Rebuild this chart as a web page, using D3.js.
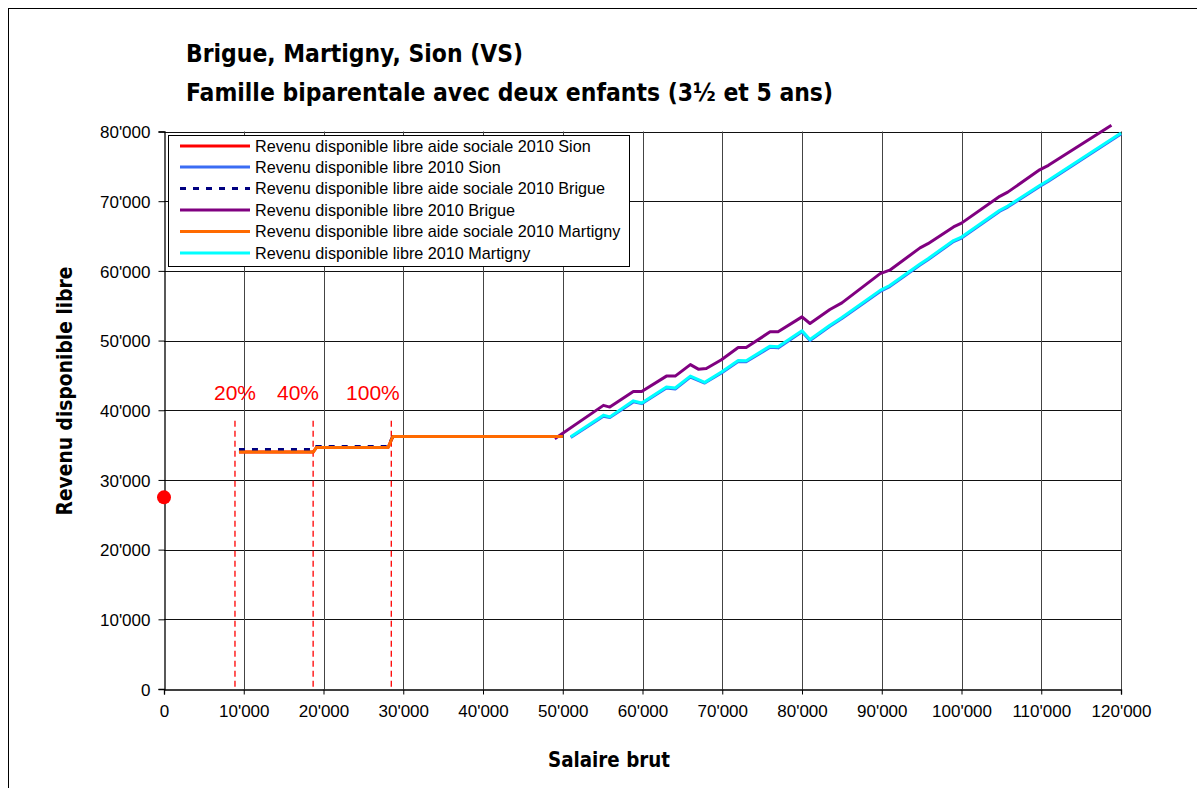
<!DOCTYPE html>
<html><head><meta charset="utf-8">
<script src="https://cdn.jsdelivr.net/npm/d3@7"></script>
<style>
html,body{margin:0;padding:0;background:#fff;}
svg{display:block;}
</style></head>
<body>
<svg id="chart" width="1197" height="788"></svg>
<script>
// ---------- data ----------
const titleLines = ["Brigue, Martigny, Sion (VS)", "Famille biparentale avec deux enfants (3\u00BD et 5 ans)"];
const xTitle = "Salaire brut";
const yTitle = "Revenu disponible libre";
const xTicks = [0,10000,20000,30000,40000,50000,60000,70000,80000,90000,100000,110000,120000];
const yTicks = [0,10000,20000,30000,40000,50000,60000,70000,80000];

const sionAide = [[9400,34000],[18700,34000],[19100,34650],[28100,34650],[28700,36250],[50000,36250]];
const brigueAide = [[9400,34350],[18700,34350],[19100,34800],[28100,34800],[28700,36250],[50000,36250]];
const martignyAide = [[9400,34000],[18700,34000],[19100,34650],[28100,34650],[28700,36250],[50000,36250]];

const brigue = [[49000,35900],[55100,40700],[55900,40450],[58850,42700],[59900,42700],[63000,44900],[64100,44900],
  [66000,46550],[67000,45900],[68000,46000],[69900,47250],[72000,49000],[73000,49000],[76000,51250],[77000,51250],
  [80000,53400],[81000,52450],[83500,54450],[85000,55400],[89800,59600],[91000,60100],[94800,63300],[95800,63900],
  [99000,66300],[100000,66850],[104800,70700],[105800,71300],[109800,74500],[110900,75150],[118800,80900]];
const sion = [[51000,36100],[55100,39150],[55900,38950],[58850,41200],[59900,40950],[63000,43200],[64100,43050],
  [66000,44750],[67800,43900],[69900,45350],[72000,47000],[73000,46950],[76000,49050],[77000,48950],[80000,51250],
  [81000,50000],[83500,52050],[85000,53150],[89800,57050],[91000,57750],[94800,60850],[95800,61600],[99000,64200],
  [100000,64700],[104800,68550],[105800,69150],[109800,72100],[110900,72850],[120000,79650]];
const martigny = [[51000,36200],[55100,39300],[55900,39050],[58850,41350],[59900,41050],[63000,43350],[64100,43200],
  [66000,44900],[67800,44000],[69900,45500],[72000,47150],[73000,47100],[76000,49200],[77000,49100],[80000,51400],
  [81000,50150],[83500,52200],[85000,53300],[89800,57200],[91000,57900],[94800,61000],[95800,61750],[99000,64350],
  [100000,64850],[104800,68700],[105800,69300],[109800,72250],[110900,73000],[120000,79800]];

const startPoint = [0,27500];
const thresholds = [8900,18700,28500];
const thresholdLabels = ["20%","40%","100%"];
const thresholdLabelX = [8900,16800,26200];
const thresholdTop = 38500;

const seriesNames = ["Revenu disponible libre aide sociale 2010 Sion","Revenu disponible libre 2010 Sion",
  "Revenu disponible libre aide sociale 2010 Brigue","Revenu disponible libre 2010 Brigue",
  "Revenu disponible libre aide sociale 2010 Martigny","Revenu disponible libre 2010 Martigny"];
const seriesColors = ["#ff0000","#3a6cf4","#000080","#800080","#ff6a00","#00ffff"];
const seriesDash = [null,null,"6,7",null,null,null];

// ---------- drawing ----------
const svg = d3.select("#chart");
const x = d3.scaleLinear().domain([0,120000]).range([164,1121]);
const y = d3.scaleLinear().domain([0,80000]).range([689,131.5]);
const fmt = v => v===0 ? "0" : d3.format(",")(v).replace(/,/g,"'");
const FONT = "'Liberation Sans', Arial, sans-serif";
const TFONT = "'DejaVu Sans Condensed','DejaVu Sans', sans-serif";

// outer frame
svg.append("rect").attr("x",8.5).attr("y",8.5).attr("width",1200).attr("height",800)
  .attr("fill","none").attr("stroke","#000").attr("stroke-width",1);

// gridlines
svg.append("g").selectAll("line").data(yTicks.slice(1)).join("line")
  .attr("x1",x(0)).attr("x2",x(120000)).attr("y1",d=>Math.round(y(d))+0.5).attr("y2",d=>Math.round(y(d))+0.5)
  .attr("stroke","#111").attr("stroke-width",1);
svg.append("g").selectAll("line").data(xTicks.slice(1)).join("line")
  .attr("y1",y(0)).attr("y2",y(80000)).attr("x1",d=>Math.round(x(d))+0.5).attr("x2",d=>Math.round(x(d))+0.5)
  .attr("stroke","#444").attr("stroke-width",1);

// axes
const xAxis = svg.append("g").attr("transform",`translate(0,${Math.round(y(0))+0.5})`)
  .call(d3.axisBottom(x).tickValues(xTicks).tickFormat(fmt).tickSize(5).tickPadding(10));
const yAxis = svg.append("g").attr("transform",`translate(${Math.round(x(0))+0.5},0)`)
  .call(d3.axisLeft(y).tickValues(yTicks).tickFormat(fmt).tickSize(6).tickPadding(8));
[xAxis,yAxis].forEach(a=>{
  a.select(".domain").attr("stroke","#000").attr("stroke-width",1.3);
  a.selectAll(".tick line").attr("stroke","#000");
  a.selectAll("text").attr("font-family",FONT).attr("font-size",17).attr("fill","#000");
});
yAxis.selectAll("text").attr("dy","0.36em");

// threshold dashed lines
svg.append("g").selectAll("line").data(thresholds).join("line")
  .attr("x1",d=>x(d)).attr("x2",d=>x(d)).attr("y1",y(thresholdTop)).attr("y2",y(0))
  .attr("stroke","#ff0000").attr("stroke-width",1.3).attr("stroke-dasharray","6,4");
svg.append("g").selectAll("text").data(thresholdLabels).join("text")
  .attr("x",(d,i)=>x(thresholdLabelX[i])).attr("y",400).attr("text-anchor","middle")
  .attr("font-family",FONT).attr("font-size",21).attr("fill","#ff0000").text(d=>d);

// lines
const line = d3.line().x(d=>x(d[0])).y(d=>y(d[1]));
const allSeries = [sionAide, sion, brigueAide, brigue, martignyAide, martigny];
const drawOrder = [0,1,2,3,4,5];
drawOrder.forEach(i=>{
  svg.append("path").datum(allSeries[i]).attr("d",line).attr("fill","none")
    .attr("stroke",seriesColors[i]).attr("stroke-width",3)
    .attr("stroke-linejoin","round")
    .attr("stroke-dasharray",seriesDash[i]);
});
// red starting point
svg.append("circle").attr("cx",x(startPoint[0])).attr("cy",y(startPoint[1])).attr("r",7).attr("fill","#ff0000");

// legend
const lg = svg.append("g");
lg.append("rect").attr("x",168.5).attr("y",135.5).attr("width",461).attr("height",131)
  .attr("fill","#fff").attr("stroke","#000").attr("stroke-width",1);
const rowY = [146,167,188.5,210,231.5,253];
seriesNames.forEach((n,i)=>{
  lg.append("line").attr("x1",180).attr("x2",250).attr("y1",rowY[i]).attr("y2",rowY[i])
    .attr("stroke",seriesColors[i]).attr("stroke-width",3).attr("stroke-dasharray",seriesDash[i]);
  lg.append("text").attr("x",255).attr("y",rowY[i]).attr("dy","0.35em")
    .attr("font-family",FONT).attr("font-size",16.2).attr("fill","#000").text(n);
});

// titles
svg.append("text").attr("x",186).attr("y",62).attr("font-family",TFONT).attr("font-weight","bold")
  .attr("font-size",25).attr("textLength",337).attr("lengthAdjust","spacingAndGlyphs").text(titleLines[0]);
svg.append("text").attr("x",186).attr("y",101).attr("font-family",TFONT).attr("font-weight","bold")
  .attr("font-size",25).attr("textLength",647).attr("lengthAdjust","spacingAndGlyphs").text(titleLines[1]);
svg.append("text").attr("x",609).attr("y",767).attr("text-anchor","middle").attr("font-family",TFONT)
  .attr("font-weight","bold").attr("font-size",21).attr("textLength",122).attr("lengthAdjust","spacingAndGlyphs").text(xTitle);
svg.append("text").attr("transform","translate(72,391) rotate(-90)").attr("text-anchor","middle")
  .attr("font-family",TFONT).attr("font-weight","bold").attr("font-size",21)
  .attr("textLength",249).attr("lengthAdjust","spacingAndGlyphs").text(yTitle);
</script>
</body></html>
